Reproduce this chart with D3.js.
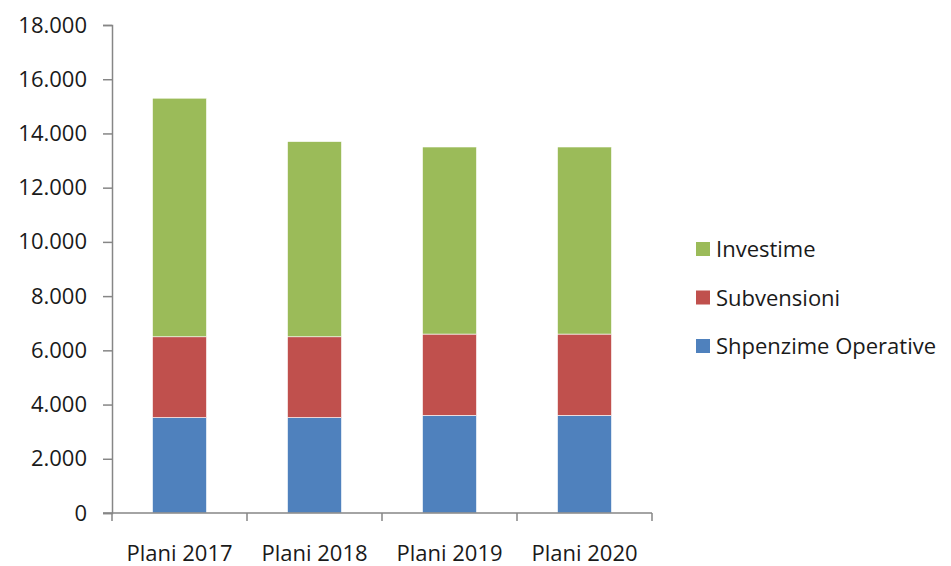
<!DOCTYPE html>
<html>
<head>
<meta charset="utf-8">
<script src="https://cdn.jsdelivr.net/npm/d3@7"></script>
<style>
  body { margin: 0; background: #fff; }
  text { font-family: "Open Sans", "Liberation Sans", sans-serif; fill: #1a1a1a; }
</style>
</head>
<body>
<script>
  var categories = ['Plani 2017', 'Plani 2018', 'Plani 2019', 'Plani 2020'];
  var seriesNames = ['Shpenzime Operative', 'Subvensioni', 'Investime'];
  var colors = ['#4f81bd', '#c0504d', '#9bbb59'];
  var operative = [3520, 3520, 3600, 3600];
  var subvensioni = [2980, 2980, 3000, 3000];
  var investime = [8800, 7200, 6900, 6900];
  var yTicks = [0, 2000, 4000, 6000, 8000, 10000, 12000, 14000, 16000, 18000];

  var w = 951, h = 566;
  var margin = {top: 25, left: 112, right: 299, bottom: 53};

  var rows = categories.map(function (c, i) {
    return {cat: c, 'Shpenzime Operative': operative[i], 'Subvensioni': subvensioni[i], 'Investime': investime[i]};
  });
  var stacked = d3.stack().keys(seriesNames)(rows);

  var svg = d3.select('body').append('svg')
    .attr('width', w)
    .attr('height', h);

  var x = d3.scaleBand()
    .domain(categories)
    .range([margin.left, w - margin.right])
    .paddingInner(0.6)
    .paddingOuter(0.3);

  var y = d3.scaleLinear()
    .domain([0, 18000])
    .range([h - margin.bottom, margin.top]);

  var fmt = function (d) { return d3.format(',')(d).replace(/,/g, '.'); };

  // bars
  svg.append('g').selectAll('g')
    .data(stacked)
    .enter().append('g')
    .attr('fill', function (d, i) { return colors[i]; })
    .selectAll('rect')
    .data(function (d) { return d; })
    .enter().append('rect')
    .attr('x', function (d) { return x(d.data.cat); })
    .attr('width', x.bandwidth())
    .attr('y', function (d) { return y(d[1]); })
    .attr('height', function (d) { return y(d[0]) - y(d[1]); })
    .attr('stroke', '#fff')
    .attr('stroke-width', 0.6);

  // y axis
  var yAxis = svg.append('g')
    .attr('transform', 'translate(' + margin.left + ',0)')
    .call(d3.axisLeft(y).tickValues(yTicks).tickFormat(fmt).tickSize(9).tickPadding(16));
  yAxis.select('.domain').attr('stroke', '#868686').attr('stroke-width', 1.5);
  yAxis.selectAll('line').attr('stroke', '#868686').attr('stroke-width', 1.5);
  yAxis.selectAll('text').style('font-size', '22px').attr('fill', '#1a1a1a');

  // x axis with ticks at category boundaries
  var x0 = margin.left;
  var x1 = w - margin.right;
  var xAxis = svg.append('g')
    .attr('transform', 'translate(0,' + (h - margin.bottom) + ')');
  xAxis.append('line')
    .attr('x1', x0 - 9).attr('x2', x1)
    .attr('stroke', '#868686').attr('stroke-width', 1.5);
  xAxis.selectAll('line.tick')
    .data(d3.range(categories.length + 1))
    .enter().append('line')
    .attr('class', 'tick')
    .attr('x1', function (i) { return x0 + i * (x1 - x0) / categories.length; })
    .attr('x2', function (i) { return x0 + i * (x1 - x0) / categories.length; })
    .attr('y1', 0).attr('y2', 8)
    .attr('stroke', '#868686').attr('stroke-width', 1.5);
  xAxis.selectAll('text')
    .data(categories)
    .enter().append('text')
    .attr('x', function (d) { return x(d) + x.bandwidth() / 2; })
    .attr('y', 48)
    .attr('text-anchor', 'middle')
    .style('font-size', '22px')
    .text(function (d) { return d; });

  // legend, top item is last series
  var legend = svg.append('g');
  var legendItems = seriesNames.slice().reverse();
  legendItems.forEach(function (name, i) {
    var cy = 249 + i * 48.5;
    legend.append('rect')
      .attr('x', 696).attr('y', cy - 7)
      .attr('width', 14).attr('height', 14)
      .attr('fill', colors[seriesNames.indexOf(name)]);
    legend.append('text')
      .attr('x', 716).attr('y', cy + 8)
      .style('font-size', '22px')
      .text(name);
  });
</script>
</body>
</html>
